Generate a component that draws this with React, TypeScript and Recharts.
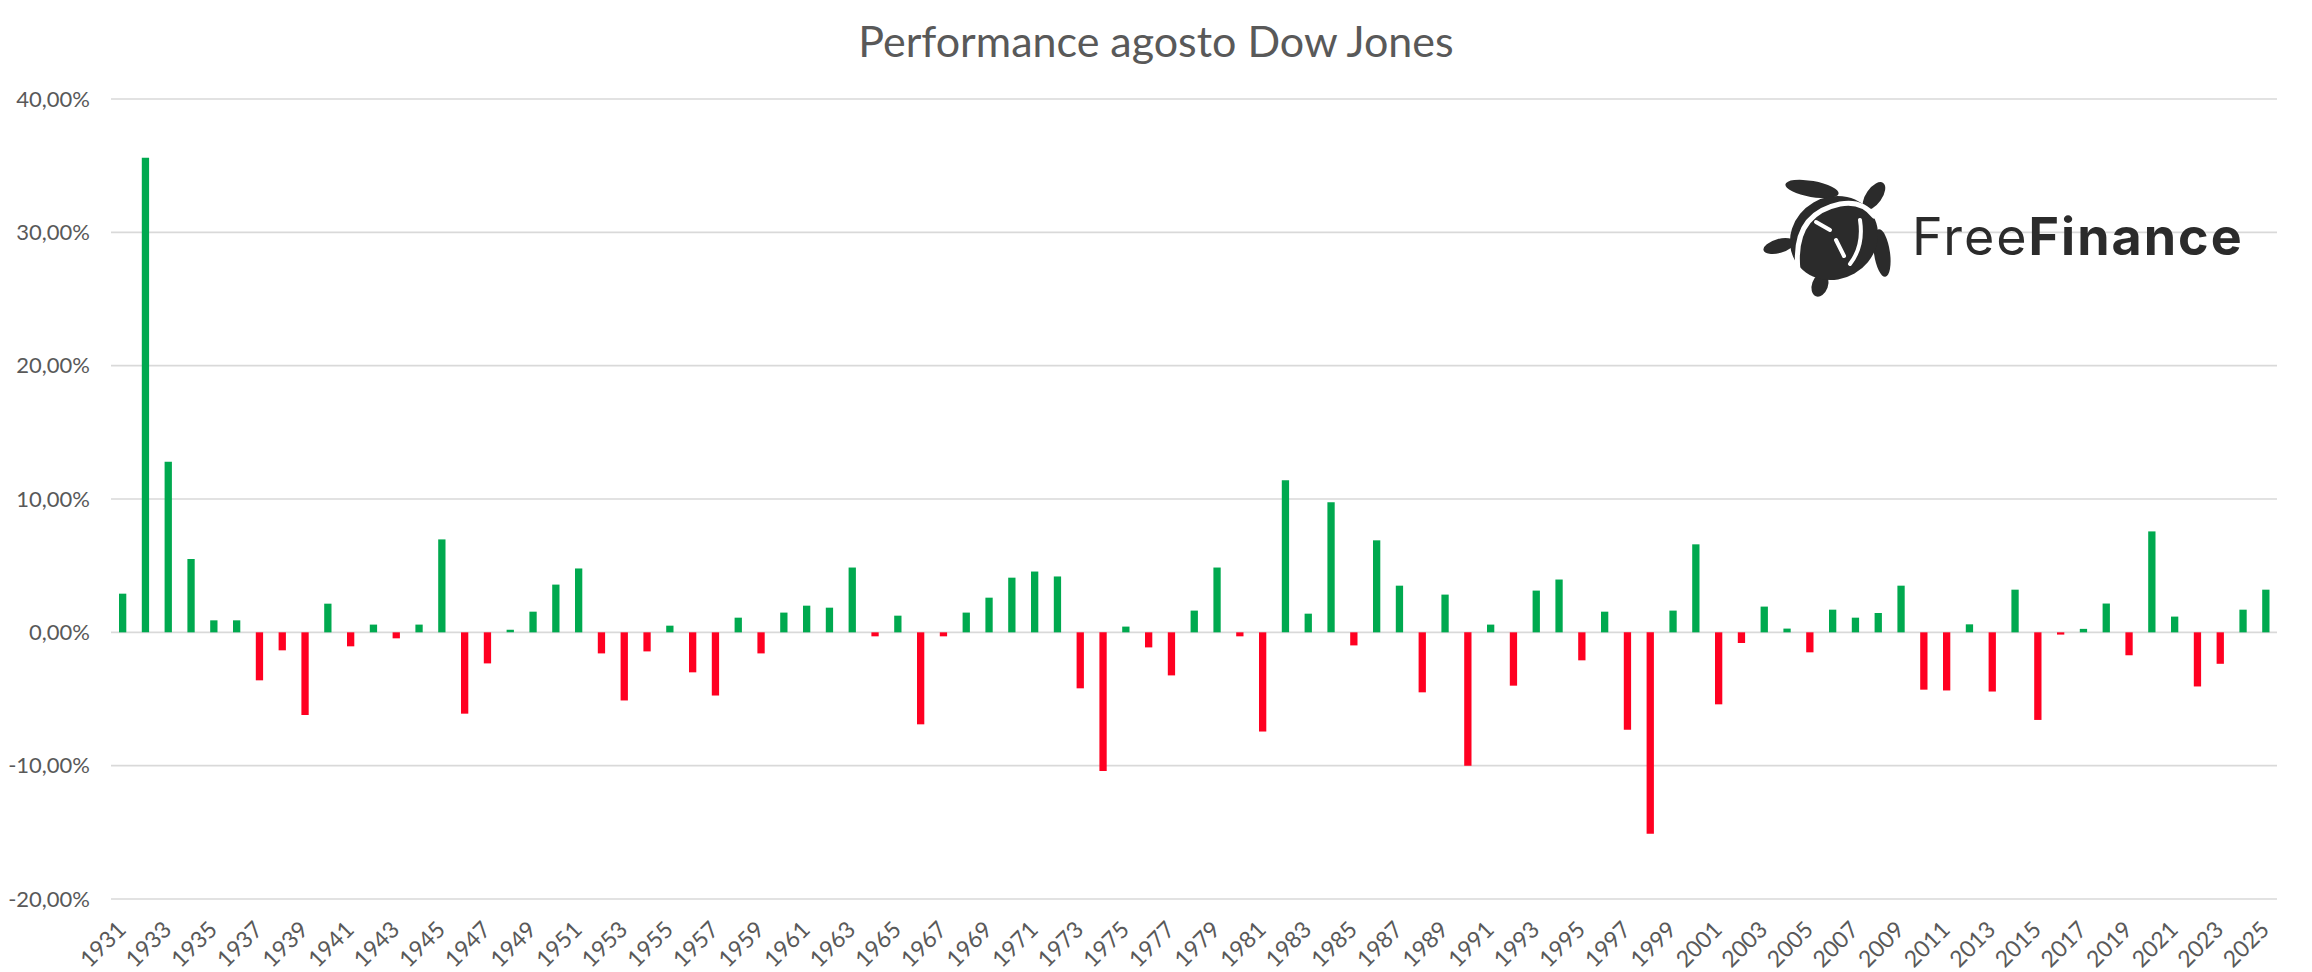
import React from 'react';
import { BarChart, Bar, Cell, XAxis, YAxis, CartesianGrid } from 'recharts';

// August performance of the Dow Jones, in percent
const YEARS = [
  '1931', '1932', '1933', '1934', '1935', '1936', '1937', '1938', '1939', '1940',
  '1941', '1942', '1943', '1944', '1945', '1946', '1947', '1948', '1949', '1950',
  '1951', '1952', '1953', '1954', '1955', '1956', '1957', '1958', '1959', '1960',
  '1961', '1962', '1963', '1964', '1965', '1966', '1967', '1968', '1969', '1970',
  '1971', '1972', '1973', '1974', '1975', '1976', '1977', '1978', '1979', '1980',
  '1981', '1982', '1983', '1984', '1985', '1986', '1987', '1988', '1989', '1990',
  '1991', '1992', '1993', '1994', '1995', '1996', '1997', '1998', '1999', '2000',
  '2001', '2002', '2003', '2004', '2005', '2006', '2007', '2008', '2009', '2010',
  '2011', '2012', '2013', '2014', '2015', '2016', '2017', '2018', '2019', '2020',
  '2021', '2022', '2023', '2024', '2025',
];

const PERFORMANCE = [
  2.9, 35.6, 12.8, 5.5, 0.9, 0.9, -3.6, -1.35, -6.2, 2.15,
  -1.05, 0.58, -0.45, 0.58, 6.97, -6.1, -2.33, 0.2, 1.55, 3.58,
  4.79, -1.58, -5.11, -1.43, 0.5, -3.0, -4.74, 1.1, -1.58, 1.48,
  2.0, 1.85, 4.86, -0.3, 1.25, -6.9, -0.3, 1.48, 2.6, 4.1,
  4.56, 4.19, -4.2, -10.4, 0.43, -1.13, -3.23, 1.63, 4.86, -0.3,
  -7.44, 11.4, 1.4, 9.75, -0.98, 6.9, 3.5, -4.5, 2.83, -10.0,
  0.58, -4.0, 3.13, 3.96, -2.1, 1.55, -7.3, -15.1, 1.63, 6.6,
  -5.4, -0.8, 1.93, 0.28, -1.5, 1.7, 1.1, 1.45, 3.5, -4.3,
  -4.36, 0.6, -4.44, 3.2, -6.57, -0.17, 0.26, 2.16, -1.72, 7.57,
  1.18, -4.06, -2.36, 1.7, 3.2,
];

const Y_TICKS = [-20, -10, 0, 10, 20, 30, 40];

const GREEN = '#00A94F';
const RED = '#FF0021';
const TEXT = '#595959';
const FONT = 'Lato, "Open Sans", sans-serif';

const data = YEARS.map((year, i) => ({ year, value: PERFORMANCE[i] }));

const formatPct = (v: number) => `${v.toFixed(2).replace('.', ',')}%`;

const YearTick = ({ x, y, payload }: any) => (
  <text
    transform={`translate(${x + 5},${y + 32}) rotate(-45)`}
    textAnchor="end"
    fontSize={23}
    fontFamily={FONT}
    fill={TEXT}
  >
    {payload.value}
  </text>
);

// rough drawing of the FreeFinance turtle logo
const Logo = () => (
  <g fill="#2b2b2b">
    <ellipse cx={1812} cy={189} rx={27} ry={8} transform="rotate(10 1812 189)" />
    <ellipse cx={1874} cy={196} rx={16} ry={8} transform="rotate(-55 1874 196)" />
    <ellipse cx={1779} cy={246} rx={16} ry={7} transform="rotate(-15 1779 246)" />
    <ellipse cx={1882} cy={253} rx={8} ry={24} transform="rotate(-8 1882 253)" />
    <ellipse cx={1820} cy={285} rx={8} ry={12} transform="rotate(20 1820 285)" />
    <ellipse cx={1834} cy={238} rx={45} ry={41} transform="rotate(-30 1834 238)" />
    <path
      d="M 1798 270 Q 1792 214 1840 204 Q 1862 200 1874 216"
      fill="none"
      stroke="#fff"
      strokeWidth={5}
      strokeLinecap="round"
    />
    <path d="M 1816 222 L 1830 230" fill="none" stroke="#fff" strokeWidth={4} strokeLinecap="round" />
    <path d="M 1836 240 L 1844 256" fill="none" stroke="#fff" strokeWidth={4} strokeLinecap="round" />
    <path d="M 1860 220 Q 1864 246 1850 264" fill="none" stroke="#fff" strokeWidth={4} strokeLinecap="round" />
    <text x={1912} y={255} fontSize={52} letterSpacing={2} fontFamily="Inter, sans-serif">
      <tspan fontWeight={400}>Free</tspan>
      <tspan fontWeight={700}>Finance</tspan>
    </text>
  </g>
);

export default function App() {
  return (
    <div style={{ position: 'fixed', left: 0, top: 0, width: 2312, height: 972, background: '#fff' }}>
      <BarChart
        width={2312}
        height={972}
        data={data}
        margin={{ top: 99, right: 35, bottom: 0, left: 0 }}
      >
        <CartesianGrid vertical={false} stroke="#D9D9D9" strokeWidth={1.6} />
        <XAxis
          dataKey="year"
          interval={1}
          axisLine={false}
          tickLine={false}
          tickSize={0}
          tickMargin={0}
          height={73}
          tick={<YearTick />}
        />
        <YAxis
          domain={[-20, 40]}
          ticks={Y_TICKS}
          width={111}
          axisLine={false}
          tickLine={false}
          tickSize={0}
          tickMargin={21}
          tickFormatter={formatPct}
          tick={{ fill: TEXT, fontSize: 22, fontFamily: FONT }}
        />
        <Bar dataKey="value" barSize={7.3} isAnimationActive={false}>
          {data.map((d, i) => (
            <Cell key={`bar-${i}`} fill={d.value >= 0 ? GREEN : RED} />
          ))}
        </Bar>
      </BarChart>
      <svg
        width={2312}
        height={972}
        style={{ position: 'absolute', left: 0, top: 0, pointerEvents: 'none' }}
      >
        <text x={1156} y={57} textAnchor="middle" fontSize={43} fontFamily={FONT} fill={TEXT}>
          Performance agosto Dow Jones
        </text>
        <Logo />
      </svg>
    </div>
  );
}
